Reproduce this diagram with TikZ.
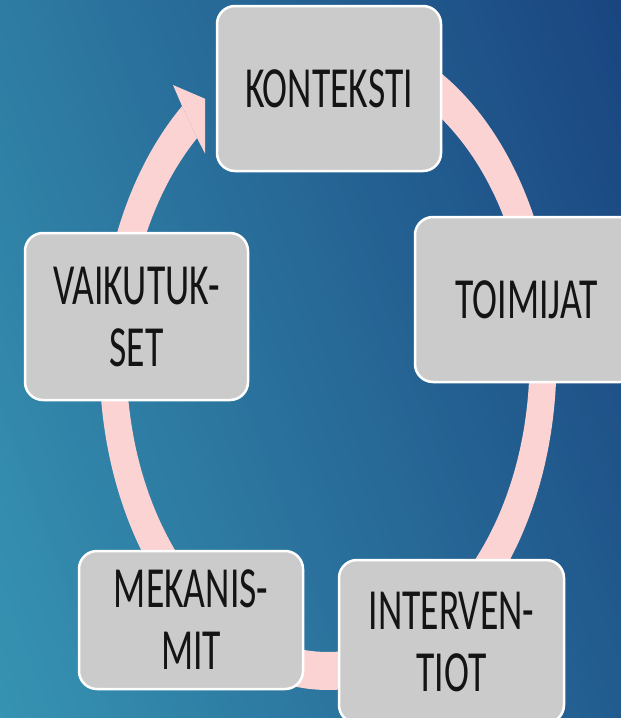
\documentclass[tikz,border=0pt]{standalone}
\usepackage{fontspec}
\setmainfont{Carlito}
\usepackage{graphicx}
\definecolor{bgA}{HTML}{3693B2}
\definecolor{bgB}{HTML}{1A4580}
\definecolor{ringpink}{HTML}{FBD3D3}
\definecolor{boxgray}{HTML}{CBCBCB}
\definecolor{txtcol}{HTML}{141414}
\newcommand{\sx}[1]{\scalebox{1}[1.55]{#1}}
\newcommand{\ringshape}{\fill[ringpink, even odd rule] (328,360) ellipse [x radius=228.5, y radius=330] (328,360) ellipse [x radius=201.5, y radius=292];}
\tikzset{
  cyclebox/.style={draw=white, line width=2.5pt, fill=boxgray, rounded corners=18pt,
    align=center, text=txtcol, font=\fontsize{37.6}{62}\selectfont, inner sep=0pt},
}
\begin{document}
\begin{tikzpicture}[x=1pt,y=-1pt]
\useasboundingbox (0,0) rectangle (621,718);
\begin{scope}
\clip (0,0) rectangle (621,718);
% background gradient
\begin{scope}[shift={(0,718)}, rotate=20]
\foreach \i in {0,...,149} {
  \pgfmathsetmacro\p{100*\i/149}
  \pgfmathsetmacro\sa{\i*5.528-0.6}
  \pgfmathsetmacro\sb{\i*5.528+6.128}
  \fill[bgB!\p!bgA] (\sa,-1200) -- (\sb,-1200) -- (\sb,1200) -- (\sa,1200) -- cycle;
}
\end{scope}
% ring
\begin{scope}
\clip (-10,-10) -- (127.6,-10) -- (205,155) -- (205,800) -- (-10,800) -- cycle;
\ringshape
\end{scope}
\begin{scope}
\clip (217,-10) rectangle (700,800);
\ringshape
\end{scope}
% arrowhead
\begin{scope}
\clip (0,0) rectangle (205,300);
\fill[ringpink] (182,106) -- (173,85) -- (229,109) -- (212,167) -- (197,138) -- cycle;
\end{scope}
% boxes
\node[cyclebox, minimum width=224pt, minimum height=165pt] (konteksti) at (329,88.5) {\sx{KONTEKSTI}};
\node[cyclebox, minimum width=223pt, minimum height=165pt] (toimijat) at (526.5,299.5) {\sx{TOIMIJAT}};
\node[cyclebox, minimum width=223pt, minimum height=167pt] (vaikutukset) at (136.5,316.5) {\sx{VAIKUTUK-}\\\sx{SET}};
\node[cyclebox, minimum width=224pt, minimum height=138pt] (mekanismit) at (191,620) {\sx{MEKANIS-}\\\sx{MIT}};
\node[cyclebox, minimum width=225pt, minimum height=163pt] (interventiot) at (451.5,641.5) {\sx{INTERVEN-}\\\sx{TIOT}};
\end{scope}
\end{tikzpicture}
\end{document}
